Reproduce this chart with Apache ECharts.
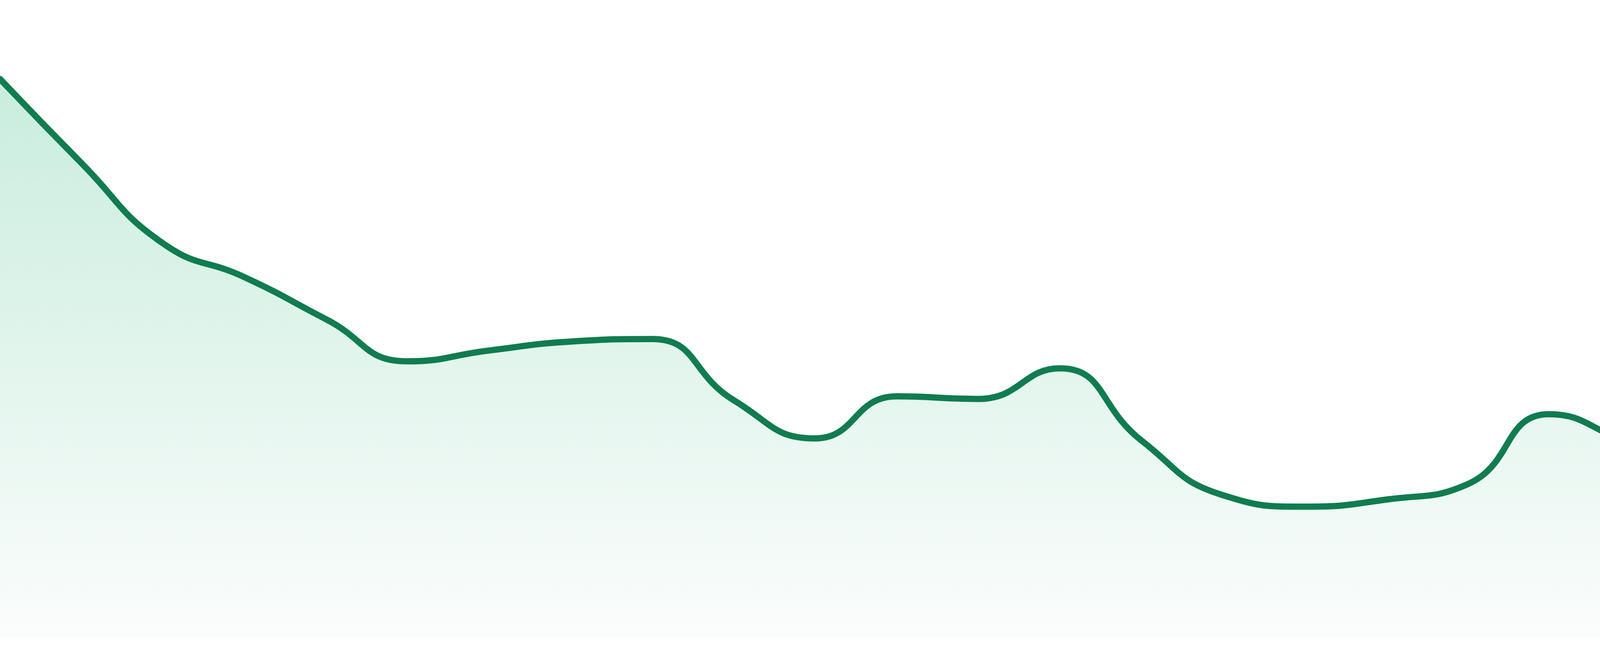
<!DOCTYPE html>
<html>
<head>
<meta charset="utf-8">
<script src="https://cdn.jsdelivr.net/npm/echarts@6/dist/echarts.min.js"></script>
<style>
html,body{margin:0;padding:0;background:#ffffff;}
#chart{width:4800px;height:1680px;}
</style>
</head>
<body>
<div id="chart"></div>
<script>
// Categories (24 evenly spaced samples)
const categories = ['1','2','3','4','5','6','7','8','9','10','11','12','13','14','15','16','17','18','19','20','21','22','23','24'];
// Series values (percent of axis range)
const values = [87.6, 74.4, 61.8, 56.5, 49.9, 43.3, 45.0, 46.4, 46.8, 37.2, 31.2, 37.8,
                37.4, 42.2, 30.9, 22.3, 20.5, 21.6, 24.0, 35.0, 30.6, 27.3, 26.7, 19.3];
const yMin = 0;
const yMax = 100;

const chart = echarts.init(document.getElementById('chart'), null, {renderer: 'canvas'});
chart.setOption({
  animation: false,
  backgroundColor: '#ffffff',
  grid: {left: 0, right: 0, top: 0, bottom: 48, containLabel: false},
  xAxis: {
    type: 'category',
    data: categories,
    boundaryGap: false,
    show: false
  },
  yAxis: {
    type: 'value',
    min: yMin,
    max: yMax,
    show: false,
    splitLine: {show: false}
  },
  series: [{
    type: 'line',
    data: values,
    smooth: true,
    showSymbol: false,
    symbol: 'none',
    lineStyle: {color: '#107c50', width: 16, cap: 'round', join: 'round'},
    areaStyle: {
      color: new echarts.graphic.LinearGradient(0, 0, 0, 1, [
        {offset: 0, color: '#b1e5cf'},
        {offset: 1, color: '#f9fcfb'}
      ])
    }
  }]
});
</script>
</body>
</html>
